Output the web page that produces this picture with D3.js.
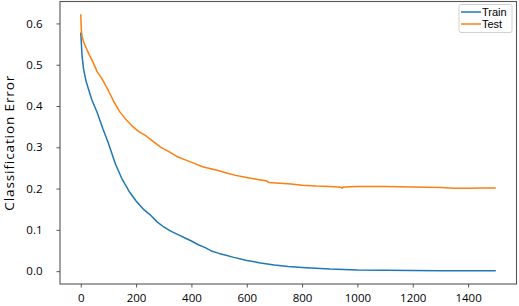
<!DOCTYPE html>
<html>
<head>
<meta charset="utf-8">
<script src="https://cdn.jsdelivr.net/npm/d3@7"></script>
<style>
  body { margin: 0; background: #fff; }
  svg text { font-family: "Open Sans", sans-serif; fill: #000; }
</style>
</head>
<body>
<div class="chart"></div>
<script>
var trainIter = [0, 5, 10, 20, 40, 60, 80, 100, 125, 150, 175, 200, 225, 250, 275, 300, 325, 350, 375, 400,
    425, 450, 475, 500, 550, 600, 650, 700, 750, 800, 850, 900, 950, 1000, 1100, 1200, 1300, 1400, 1500];
var trainErr = [0.578, 0.52, 0.49, 0.458, 0.415, 0.383, 0.345, 0.31, 0.26, 0.222, 0.193, 0.17, 0.151, 0.137, 0.12, 0.107,
    0.097, 0.089, 0.081, 0.073, 0.064, 0.057, 0.048, 0.043, 0.034, 0.026, 0.020, 0.015, 0.011, 0.0088, 0.0068, 0.005, 0.004,
    0.0028, 0.002, 0.0015, 0.001, 0.001, 0.001];

var testIter = [0, 2, 5, 10, 20, 30, 45, 60, 70, 80, 100, 120, 140, 160, 185, 210, 235, 260, 290, 320, 350, 380, 410,
    440, 470, 500, 530, 560, 600, 640, 670, 680, 720, 760, 800, 850, 900, 940, 945, 950, 1000, 1050, 1100, 1150, 1200,
    1250, 1300, 1350, 1400, 1450, 1500];
var testErr = [0.622, 0.585, 0.568, 0.556, 0.54, 0.525, 0.505, 0.482, 0.473, 0.462, 0.437, 0.41, 0.387, 0.37, 0.352,
    0.338, 0.328, 0.315, 0.300, 0.289, 0.277, 0.269, 0.261, 0.253, 0.248, 0.243, 0.237, 0.232, 0.227, 0.222, 0.219, 0.215,
    0.213, 0.211, 0.208, 0.206, 0.205, 0.2035, 0.201, 0.204, 0.205, 0.2048, 0.205, 0.2045, 0.204, 0.203, 0.2025, 0.201,
    0.2005, 0.2012, 0.2015];

var seriesNames = ["Train", "Test"];
var seriesColors = ["#1f77b4", "#ff7f0e"];
var xTicks = [0, 200, 400, 600, 800, 1000, 1200, 1400];
var yTicks = [0.0, 0.1, 0.2, 0.3, 0.4, 0.5, 0.6];
var yLabel = "Classification Error";

var margin = {top: 1.5, right: 2.5, bottom: 22, left: 60};
var W = 519, H = 306;
var width = W - margin.left - margin.right;
var height = H - margin.top - margin.bottom;

var svg = d3.select(".chart").append("svg")
    .attr("width", W)
    .attr("height", H);

var g = svg.append("g")
    .attr("transform", "translate(" + margin.left + "," + margin.top + ")");

var x = d3.scaleLinear().domain([-75, 1575]).range([0, width]);
var y = d3.scaleLinear().domain([-0.0311, 0.6531]).range([height, 0]);

// lines
var line = d3.line()
    .x(function (d) { return x(d[0]); })
    .y(function (d) { return y(d[1]); });

var series = [
    d3.zip(trainIter, trainErr),
    d3.zip(testIter, testErr)
];

series.forEach(function (s, i) {
    g.append("path")
        .datum(s)
        .attr("fill", "none")
        .attr("stroke", seriesColors[i])
        .attr("stroke-width", 1.5)
        .attr("stroke-linejoin", "round")
        .attr("d", line);
});

// axes
var xAxisCall = d3.axisBottom(x).tickValues(xTicks).tickSize(3.5).tickPadding(6)
    .tickFormat(d3.format("d"));
g.append("g")
    .attr("class", "x-axis")
    .attr("transform", "translate(0," + height + ")")
    .call(xAxisCall)
    .call(function (a) { a.select(".domain").remove(); })
    .selectAll("text")
    .style("font-size", "11.5px");

var yAxisCall = d3.axisLeft(y).tickValues(yTicks).tickSize(3.5).tickPadding(14)
    .tickFormat(d3.format(".1f"));
g.append("g")
    .attr("class", "y-axis")
    .call(yAxisCall)
    .call(function (a) { a.select(".domain").remove(); })
    .selectAll("text")
    .style("font-size", "11.5px");

g.selectAll(".tick line").attr("stroke", "#555");

// frame
g.append("rect")
    .attr("x", 0).attr("y", 0)
    .attr("width", width).attr("height", height)
    .attr("fill", "none")
    .attr("stroke", "#555")
    .attr("stroke-width", 1.1);

// y label
svg.append("text")
    .attr("transform", "translate(13.5," + (margin.top + height / 2) + ") rotate(-90)")
    .attr("text-anchor", "middle")
    .style("font-size", "13.5px")
    .style("letter-spacing", "0.9px")
    .text(yLabel);

// legend
var lg = svg.append("g").attr("transform", "translate(459,4.5)");
lg.append("rect")
    .attr("width", 53).attr("height", 28)
    .attr("rx", 2)
    .attr("fill", "#fff")
    .attr("stroke", "#d0d0d0")
    .attr("stroke-width", 1);
seriesNames.forEach(function (name, i) {
    var yy = 7.5 + i * 12;
    lg.append("line")
        .attr("x1", 2).attr("x2", 22)
        .attr("y1", yy).attr("y2", yy)
        .attr("stroke", seriesColors[i])
        .attr("stroke-width", 1.5);
    lg.append("text")
        .attr("x", 23).attr("y", yy + 4)
        .style("font-family", "'Liberation Sans', sans-serif")
        .style("font-size", "11px")
        .text(name);
});
</script>
</body>
</html>
